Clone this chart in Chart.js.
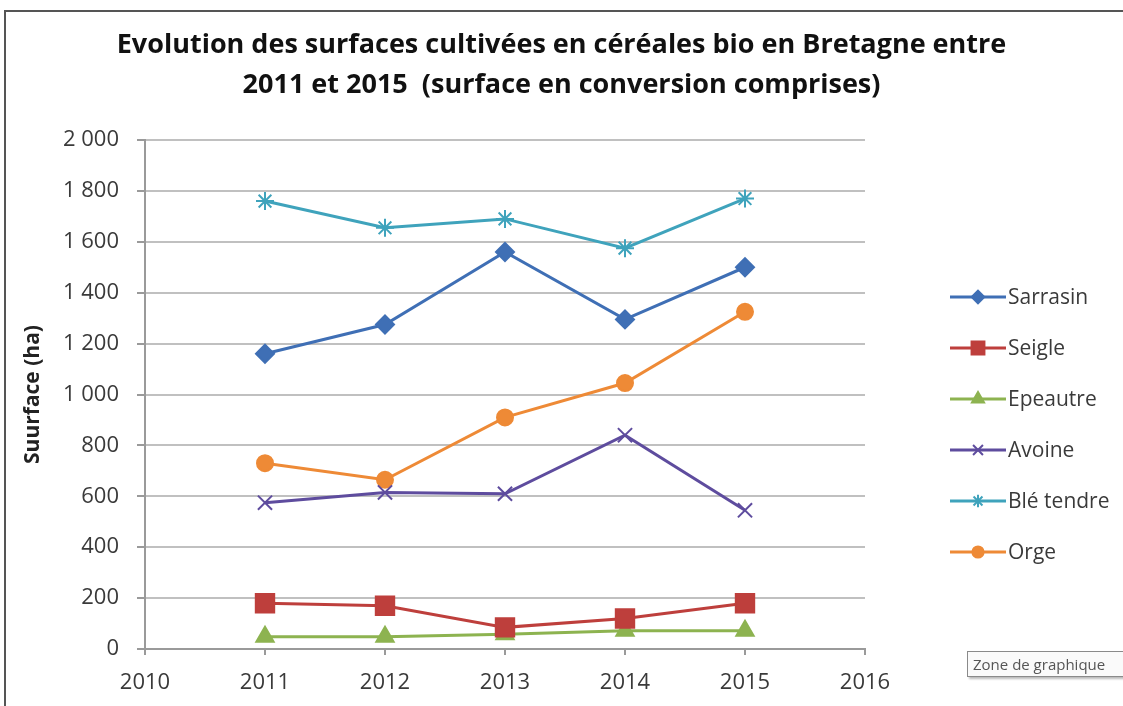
<!DOCTYPE html>
<html lang="fr">
<head>
<meta charset="utf-8">
<title>Céréales bio en Bretagne</title>
<script src="https://cdn.jsdelivr.net/npm/chart.js@4/dist/chart.umd.min.js"></script>
<style>
    html, body { margin: 0; padding: 0; background: #fff; }
    #wrap { position: relative; width: 1123px; height: 706px; overflow: hidden; }
    #tip {
        position: absolute; left: 967px; top: 651px; width: 170px; height: 24px;
        border: 1px solid #8a8a8a; background: #fafafa; box-shadow: 2px 2px 2px #bbb;
        font: 15px "Open Sans", sans-serif; color: #555;
        line-height: 24px; padding-left: 5px; white-space: nowrap; overflow: hidden;
    }
</style>
</head>
<body>
<div id="wrap">
    <canvas id="chart" width="1123" height="706"></canvas>
    <div id="tip">Zone de graphique</div>
</div>
<script>
// Données (ha)
const years = [2011, 2012, 2013, 2014, 2015];
const sarrasin = [1160, 1275, 1560, 1295, 1500];
const seigle = [180, 170, 85, 120, 180];
const epeautre = [48, 48, 58, 72, 72];
const avoine = [575, 615, 610, 840, 545];
const bleTendre = [1760, 1655, 1690, 1575, 1770];
const orge = [730, 665, 910, 1045, 1325];

const titleLines = [
    'Evolution des surfaces cultivées en céréales bio en Bretagne entre',
    '2011 et 2015  (surface en conversion comprises)'
];

const fontFamily = '"Open Sans", sans-serif';
const textColor = '#3a3a3a';
const gridColor = '#c0c0c0';

const toPoints = (values) => years.map((y, i) => ({ x: y, y: values[i] }));

const series = [
    { label: 'Sarrasin', data: sarrasin, color: '#3F6FB5', style: 'rectRot', radius: 9 },
    { label: 'Seigle', data: seigle, color: '#BE3F3C', style: 'rect', radius: 13 },
    { label: 'Epeautre', data: epeautre, color: '#8DB350', style: 'triangle', radius: 10 },
    { label: 'Avoine', data: avoine, color: '#5E4C9E', style: 'crossRot', radius: 10 },
    { label: 'Blé tendre', data: bleTendre, color: '#3FA3BC', style: 'star', radius: 9 },
    { label: 'Orge', data: orge, color: '#EE8A36', style: 'circle', radius: 8 }
];

/**
 * Cadre + titre centré sur toute la largeur
 */
const framePlugin = {
    id: 'frame',
    beforeDraw(chart) {
        const ctx = chart.ctx;
        ctx.save();
        ctx.strokeStyle = '#555';
        ctx.lineWidth = 2;
        ctx.beginPath();
        ctx.moveTo(5, chart.height);
        ctx.lineTo(5, 11);
        ctx.lineTo(chart.width, 11);
        ctx.stroke();

        ctx.fillStyle = '#111';
        ctx.font = 'bold 27px ' + fontFamily;
        ctx.textAlign = 'center';
        ctx.textBaseline = 'middle';
        titleLines.forEach((line, i) => ctx.fillText(line, chart.width / 2, 45 + i * 40));
        ctx.restore();
    }
};

/**
 * Légende façon Excel : trait + marqueur
 */
const legendPlugin = {
    id: 'excelLegend',
    afterDraw(chart) {
        const ctx = chart.ctx;
        const x0 = chart.chartArea.right + 85;
        const y0 = 297;
        const gap = 51;
        ctx.save();
        chart.data.datasets.forEach((ds, i) => {
            const y = y0 + i * gap;
            ctx.strokeStyle = ds.borderColor;
            ctx.lineWidth = 3;
            ctx.beginPath();
            ctx.moveTo(x0, y);
            ctx.lineTo(x0 + 56, y);
            ctx.stroke();
            ctx.fillStyle = ds.pointBackgroundColor;
            ctx.strokeStyle = ds.pointBorderColor;
            ctx.lineWidth = 2;
            Chart.helpers.drawPoint(ctx, {
                pointStyle: ds.pointStyle,
                radius: ds.pointRadius * 0.7,
                rotation: 0,
                borderWidth: 2
            }, x0 + 28, y);
            ctx.fillStyle = textColor;
            ctx.font = '21px ' + fontFamily;
            ctx.textAlign = 'left';
            ctx.textBaseline = 'middle';
            ctx.fillText(ds.label, x0 + 58, y + 1);
        });
        ctx.restore();
    }
};

const formatThousands = (v) => String(v).replace(/\B(?=(\d{3})+(?!\d))/g, ' ');

new Chart(document.getElementById('chart'), {
    type: 'line',
    data: {
        datasets: series.map(s => ({
            label: s.label,
            data: toPoints(s.data),
            borderColor: s.color,
            backgroundColor: s.color,
            borderWidth: 3,
            pointStyle: s.style,
            pointRadius: s.radius,
            pointBackgroundColor: s.color,
            pointBorderColor: s.color,
            pointBorderWidth: 2,
            tension: 0
        }))
    },
    options: {
        responsive: false,
        animation: false,
        layout: { padding: { left: 0, right: 258, top: 140, bottom: 0 } },
        plugins: {
            legend: { display: false },
            tooltip: { enabled: false },
            title: { display: false }
        },
        scales: {
            x: {
                type: 'linear',
                min: 2010,
                max: 2016,
                afterFit: (scale) => { scale.height = 57; },
                ticks: {
                    stepSize: 1,
                    color: textColor,
                    padding: 15,
                    font: { family: fontFamily, size: 22 },
                    callback: (v) => String(v)
                },
                grid: { drawOnChartArea: false, drawTicks: true, tickLength: 6, color: '#9a9a9a', lineWidth: 2 },
                border: { color: '#9a9a9a', width: 2 }
            },
            y: {
                min: 0,
                max: 2000,
                afterFit: (scale) => { scale.width = 145; },
                ticks: {
                    stepSize: 200,
                    color: textColor,
                    padding: 18,
                    font: { family: fontFamily, size: 22 },
                    callback: (v) => formatThousands(v)
                },
                grid: { color: gridColor, lineWidth: 2, tickLength: 8, tickColor: '#9a9a9a' },
                border: { color: '#9a9a9a', width: 2 },
                title: {
                    display: true,
                    text: 'Suurface (ha)',
                    color: '#222',
                    font: { family: fontFamily, size: 21, weight: 'bold' },
                    padding: { top: 20, bottom: 0 }
                }
            }
        }
    },
    plugins: [framePlugin, legendPlugin]
});
</script>
</body>
</html>
